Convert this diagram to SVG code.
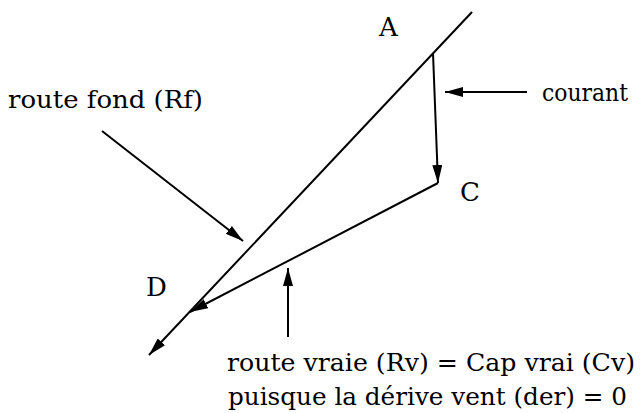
<svg xmlns="http://www.w3.org/2000/svg" width="644" height="413" viewBox="0 0 644 413">
<style>
.ln{stroke:#000;stroke-width:2;fill:none}
.t{font-family:'DejaVu Serif','Liberation Serif',serif;font-size:24px;fill:#000}
.l{font-family:'DejaVu Serif','Liberation Serif',serif;font-size:26px;fill:#000}
</style>
<defs>
<marker id="ah" viewBox="0 0 18 10" refX="18" refY="5" markerWidth="18" markerHeight="10" markerUnits="userSpaceOnUse" orient="auto">
<path d="M0,0 L18,5 L0,10 Z" fill="#000"/>
</marker>
</defs>
<rect width="644" height="413" fill="#fff"/>
<g id="connectors">
<line class="ln" x1="472" y1="12" x2="149" y2="355" marker-end="url(#ah)"/>
<line class="ln" x1="433" y1="53" x2="438" y2="183" marker-end="url(#ah)"/>
<line class="ln" x1="438" y1="183" x2="190" y2="312" marker-end="url(#ah)"/>
<line class="ln" x1="102" y1="131" x2="243" y2="241" marker-end="url(#ah)"/>
<line class="ln" x1="527" y1="92" x2="445" y2="92" marker-end="url(#ah)"/>
<line class="ln" x1="288" y1="337" x2="288" y2="268" marker-end="url(#ah)"/>
</g>
<g id="A"><text class="l" x="379" y="36">A</text></g>
<g id="C"><text class="l" x="460" y="201">C</text></g>
<g id="D"><text class="l" x="146" y="296">D</text></g>
<g id="rf"><text class="t" x="8" y="108" textLength="195" lengthAdjust="spacingAndGlyphs">route fond (Rf)</text></g>
<g id="courant"><text class="t" x="542" y="101" textLength="86" lengthAdjust="spacingAndGlyphs">courant</text></g>
<g id="rv">
<text class="t" x="227" y="371" textLength="408" lengthAdjust="spacingAndGlyphs">route vraie (Rv) = Cap vrai (Cv)</text>
<text class="t" x="228" y="405" textLength="399" lengthAdjust="spacingAndGlyphs">puisque la dérive vent (der) = 0</text>
</g>
</svg>
